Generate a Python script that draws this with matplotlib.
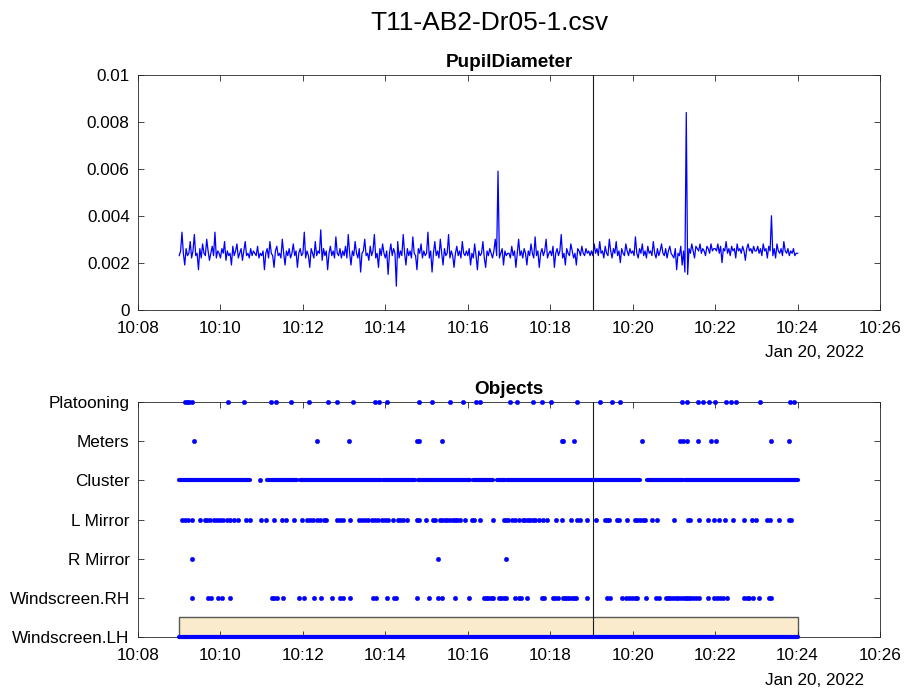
import matplotlib
matplotlib.use("Agg")
import matplotlib.pyplot as plt
import matplotlib.dates as mdates
from matplotlib.patches import Rectangle
import pandas as pd

plt.rcParams['font.family'] = ['Liberation Sans', 'DejaVu Sans']

DAY = "2022-01-20"
file_title = "T11-AB2-Dr05-1.csv"

# Pupil diameter in mm, one row per minute starting 10:09, sampled every 2 s
pupil_step_s = 2
pupil_minutes = ["10:09", "10:10", "10:11", "10:12", "10:13", "10:14", "10:15", "10:16",
                 "10:17", "10:18", "10:19", "10:20", "10:21", "10:22", "10:23"]
pupil_mm = [
    [2.3, 2.5, 3.3, 2.4, 1.9, 2.6, 2.3, 2.4, 2.9, 2.2, 2.5, 3.2, 2.3, 2.4, 1.7, 2.6, 2.2, 2.8, 2.4, 2.3, 3.0, 2.5, 2.1, 2.4, 2.7, 2.3, 3.3, 2.2, 2.5, 2.4],
    [2.2, 2.6, 2.4, 2.9, 2.1, 2.5, 2.3, 2.4, 1.9, 2.7, 2.3, 2.5, 2.8, 2.2, 2.4, 2.6, 2.1, 2.5, 2.9, 2.3, 2.4, 2.2, 2.6, 2.3, 2.5, 2.4, 2.3, 2.7, 2.2, 2.4],
    [2.3, 2.5, 1.7, 2.4, 2.6, 2.2, 2.9, 2.4, 2.3, 1.8, 2.5, 2.7, 2.3, 2.4, 2.2, 3.0, 2.4, 1.9, 2.5, 2.3, 2.6, 2.2, 2.4, 2.8, 2.3, 2.5, 1.8, 2.4, 2.6, 2.3],
    [2.4, 3.3, 2.2, 2.5, 2.3, 1.8, 2.6, 2.4, 2.2, 2.9, 2.3, 2.5, 2.4, 3.4, 2.1, 2.6, 2.3, 2.5, 1.7, 2.4, 2.7, 2.3, 2.5, 2.2, 3.1, 2.4, 2.3, 2.6, 2.2, 2.5],
    [2.3, 2.7, 2.2, 3.2, 2.4, 1.9, 2.5, 2.3, 2.9, 2.4, 2.2, 2.6, 1.6, 2.4, 2.5, 3.0, 2.3, 2.4, 2.1, 2.7, 2.3, 2.5, 3.2, 2.2, 2.4, 1.8, 2.6, 2.3, 2.8, 2.4],
    [2.2, 2.5, 1.5, 2.4, 2.8, 2.3, 2.6, 2.4, 1.0, 2.9, 2.2, 2.5, 2.3, 3.2, 2.4, 1.9, 2.6, 2.3, 2.5, 2.2, 3.1, 2.4, 2.3, 1.7, 2.6, 2.4, 2.8, 2.2, 2.5, 2.3],
    [2.4, 3.3, 2.2, 2.5, 1.6, 2.4, 2.9, 2.3, 2.5, 2.2, 3.0, 2.4, 1.9, 2.6, 2.3, 2.4, 3.2, 2.2, 2.5, 2.3, 1.8, 2.4, 2.7, 2.3, 2.5, 2.2, 2.9, 2.4, 2.3, 2.5],
    [2.3, 2.6, 1.9, 2.4, 2.2, 2.8, 2.3, 1.7, 2.5, 2.3, 2.4, 2.9, 2.2, 1.8, 2.5, 2.3, 2.6, 2.4, 2.2, 2.5, 3.0, 2.3, 5.9, 2.2, 2.4, 2.6, 1.9, 2.5, 2.3, 2.4],
    [2.4, 2.2, 2.7, 2.3, 2.5, 1.8, 2.4, 3.0, 2.3, 2.5, 2.2, 2.6, 2.4, 1.9, 2.5, 2.3, 2.8, 2.4, 2.2, 3.1, 2.3, 2.5, 1.8, 2.4, 2.6, 2.3, 2.5, 3.0, 2.2, 2.4],
    [2.5, 2.3, 2.7, 1.8, 2.4, 2.6, 2.3, 2.5, 3.2, 2.2, 2.4, 1.9, 2.6, 2.4, 2.3, 2.8, 2.5, 2.2, 2.4, 1.9, 2.6, 2.5, 2.3, 2.7, 2.4, 2.3, 2.6, 2.4, 2.5, 2.3],
    [2.5, 2.3, 2.8, 2.4, 2.6, 2.3, 2.9, 2.4, 2.5, 2.2, 2.7, 2.4, 2.3, 3.0, 2.5, 2.2, 2.6, 2.4, 2.9, 2.3, 2.5, 2.0, 2.6, 2.4, 2.3, 2.8, 2.5, 2.3, 2.6, 2.4],
    [2.5, 2.3, 3.1, 2.4, 2.2, 2.6, 2.4, 2.8, 2.3, 2.5, 2.2, 2.7, 2.4, 2.5, 2.3, 2.9, 2.4, 2.2, 2.6, 2.3, 2.5, 2.8, 2.4, 2.3, 2.6, 2.2, 2.5, 2.7, 2.4, 2.3],
    [2.2, 2.6, 1.7, 2.4, 2.3, 2.7, 1.9, 2.5, 1.6, 8.4, 1.5, 2.6, 2.4, 2.8, 2.5, 2.2, 2.7, 2.6, 2.5, 2.8, 2.4, 2.6, 2.5, 2.3, 2.7, 2.6, 2.4, 2.8, 2.5, 2.6],
    [2.6, 2.5, 2.8, 2.4, 2.7, 2.0, 2.6, 2.5, 2.9, 2.4, 2.6, 2.3, 2.7, 2.5, 2.6, 2.2, 2.8, 2.5, 2.6, 2.4, 2.7, 2.5, 2.1, 2.6, 2.8, 2.5, 2.6, 2.4, 2.7, 2.5],
    [2.5, 2.7, 2.4, 2.6, 2.3, 2.8, 2.5, 2.6, 2.2, 2.7, 2.5, 4.0, 2.3, 2.6, 2.2, 2.8, 2.5, 2.4, 2.6, 2.3, 2.9, 2.5, 2.4, 2.6, 2.3, 2.5, 2.4, 2.6, 2.3, 2.4],
]
pupil_last = ("10:24:00", 2.4)

# Gaze targets, bottom to top
categories = ["Windscreen.LH", "Windscreen.RH", "R Mirror", "L Mirror",
              "Cluster", "Meters", "Platooning"]

platooning_t = ["10:09:08", "10:09:11", "10:09:14", "10:09:19", "10:10:11", "10:10:34",
                "10:11:14", "10:11:21", "10:11:43", "10:12:09", "10:12:37", "10:12:50",
                "10:13:13", "10:13:45", "10:13:51", "10:14:02", "10:14:49", "10:15:08",
                "10:15:34", "10:15:53", "10:16:12", "10:16:18", "10:17:01", "10:17:12",
                "10:17:35", "10:17:48", "10:18:01", "10:18:39", "10:19:12", "10:19:30",
                "10:19:42", "10:21:12", "10:21:19", "10:21:35", "10:21:42", "10:21:51",
                "10:22:00", "10:22:16", "10:22:23", "10:22:30", "10:23:05", "10:23:49",
                "10:23:55"]

meters_t = ["10:09:22", "10:12:20", "10:13:07", "10:14:46", "10:14:49", "10:15:23",
            "10:18:17", "10:18:19", "10:18:34", "10:20:14", "10:21:09", "10:21:13",
            "10:21:19", "10:21:35", "10:21:54", "10:22:01", "10:23:21", "10:23:47"]

cluster_runs = [("10:09:00", "10:10:43"), ("10:11:08", "10:11:51"), ("10:11:56", "10:13:54"),
                ("10:13:57", "10:14:43"), ("10:14:48", "10:16:03"), ("10:16:08", "10:16:37"),
                ("10:16:43", "10:16:54"), ("10:16:57", "10:20:11"), ("10:20:21", "10:21:13"),
                ("10:21:16", "10:24:00")]
cluster_t = ["10:10:58"]

l_mirror_t = ["10:09:04", "10:09:08", "10:09:13", "10:09:18", "10:09:30", "10:09:38",
              "10:09:41", "10:09:45", "10:09:50", "10:09:55", "10:09:59", "10:10:04",
              "10:10:09", "10:10:14", "10:10:19", "10:10:26", "10:10:37", "10:10:43",
              "10:10:59", "10:11:07", "10:11:18", "10:11:30", "10:11:36", "10:11:47",
              "10:11:58", "10:12:06", "10:12:10", "10:12:15", "10:12:20", "10:12:25",
              "10:12:30", "10:12:34", "10:12:49", "10:12:54", "10:12:59", "10:13:09",
              "10:13:21", "10:13:26", "10:13:30", "10:13:35", "10:13:40", "10:13:45",
              "10:13:50", "10:13:55", "10:13:59", "10:14:04", "10:14:11", "10:14:19",
              "10:14:22", "10:14:25", "10:14:31", "10:14:46", "10:14:49", "10:14:59",
              "10:15:09", "10:15:12", "10:15:20", "10:15:23", "10:15:27", "10:15:30",
              "10:15:34", "10:15:38", "10:15:41", "10:15:45", "10:15:49", "10:15:56",
              "10:16:06", "10:16:09", "10:16:18", "10:16:36", "10:16:52", "10:16:56",
              "10:16:59", "10:17:04", "10:17:09", "10:17:14", "10:17:20", "10:17:23",
              "10:17:27", "10:17:31", "10:17:35", "10:17:38", "10:17:43", "10:17:50",
              "10:17:55", "10:18:09", "10:18:17", "10:18:30", "10:18:39", "10:18:43",
              "10:18:54", "10:19:07", "10:19:20", "10:19:23", "10:19:26", "10:19:37",
              "10:19:40", "10:19:51", "10:20:03", "10:20:07", "10:20:11", "10:20:15",
              "10:20:18", "10:20:28", "10:20:35", "10:21:00", "10:21:21", "10:21:24",
              "10:21:36", "10:21:49", "10:21:58", "10:22:06", "10:22:14", "10:22:26",
              "10:22:42", "10:22:53", "10:22:59", "10:23:16", "10:23:20", "10:23:33",
              "10:23:47", "10:23:51"]

r_mirror_t = ["10:09:18", "10:15:16", "10:16:55"]

windscreen_rh_t = ["10:09:18", "10:09:42", "10:09:46", "10:09:56", "10:10:02", "10:10:14",
                   "10:11:15", "10:11:18", "10:11:22", "10:11:31", "10:11:54", "10:12:02",
                   "10:12:16", "10:12:27", "10:12:43", "10:12:54", "10:12:58", "10:13:08",
                   "10:13:42", "10:13:47", "10:14:02", "10:14:12", "10:14:16", "10:14:46",
                   "10:15:03", "10:15:16", "10:15:23", "10:15:41", "10:16:02", "10:16:23",
                   "10:16:27", "10:16:30", "10:16:34", "10:16:37", "10:16:46", "10:16:49",
                   "10:16:53", "10:16:56", "10:17:09", "10:17:14", "10:17:18", "10:17:26",
                   "10:17:48", "10:17:51", "10:18:04", "10:18:07", "10:18:12", "10:18:18",
                   "10:18:21", "10:18:25", "10:18:28", "10:18:31", "10:18:35", "10:18:38",
                   "10:18:54", "10:19:23", "10:19:27", "10:19:45", "10:19:50", "10:19:54",
                   "10:19:59", "10:20:03", "10:20:07", "10:20:20", "10:20:34", "10:20:38",
                   "10:20:48", "10:20:52", "10:20:55", "10:20:59", "10:21:03", "10:21:06",
                   "10:21:10", "10:21:14", "10:21:18", "10:21:21", "10:21:24", "10:21:28",
                   "10:21:32", "10:21:36", "10:21:50", "10:21:58", "10:22:02", "10:22:07",
                   "10:22:12", "10:22:17", "10:22:42", "10:22:46", "10:22:50", "10:22:55",
                   "10:23:04", "10:23:19", "10:23:22"]

windscreen_lh_runs = [("10:09:00", "10:24:00")]

highlight_window = ("10:09:00", "10:24:00")
cursor_time = "10:19:02"
x_limits = ("10:08:00", "10:26:00")
date_label = "Jan 20, 2022"


def ts(hms):
    return pd.Timestamp(f"{DAY} {hms}")


def tlist(values):
    return [ts(v) for v in values]


BLUE = (0.0, 0.0, 1.0)
AX_COLOR = (0.15, 0.15, 0.15)
TICK_FS = 12.3

fig = plt.figure(figsize=(9.05, 6.88), dpi=100)
fig.text(0.541, 0.967, file_title, ha='center', va='center', fontsize=19)

ax1 = fig.add_axes([0.1525, 0.550, 0.8199, 0.341])
ax2 = fig.add_axes([0.1525, 0.0741, 0.8199, 0.3416])

# --- Pupil diameter trace ---
p_times, p_vals = [], []
for minute, row in zip(pupil_minutes, pupil_mm):
    t0 = ts(minute + ":00")
    for i, v in enumerate(row):
        p_times.append(t0 + pd.Timedelta(seconds=i * pupil_step_s))
        p_vals.append(v / 1000.0)
p_times.append(ts(pupil_last[0]))
p_vals.append(pupil_last[1] / 1000.0)

ax1.plot(p_times, p_vals, color=BLUE, lw=0.9)
ax1.set_ylim(0, 0.01)
ax1.set_yticks([0, 0.002, 0.004, 0.006, 0.008, 0.01])
ax1.set_yticklabels(["0", "0.002", "0.004", "0.006", "0.008", "0.01"])
ax1.set_title("PupilDiameter", fontsize=13.6, fontweight='bold', pad=6)

# --- Gaze objects ---
ypos = {c: i + 1 for i, c in enumerate(categories)}

x0, x1 = ts(highlight_window[0]), ts(highlight_window[1])
band = Rectangle((mdates.date2num(x0), ypos["Windscreen.LH"]),
                 mdates.date2num(x1) - mdates.date2num(x0), 0.5,
                 facecolor=(0.98, 0.92, 0.80), edgecolor=(0.35, 0.35, 0.35),
                 lw=1.0, zorder=1)
ax2.add_patch(band)

point_sets = {
    "Platooning": platooning_t,
    "Meters": meters_t,
    "Cluster": cluster_t,
    "L Mirror": l_mirror_t,
    "R Mirror": r_mirror_t,
    "Windscreen.RH": windscreen_rh_t,
}
for name, times in point_sets.items():
    ax2.plot(tlist(times), [ypos[name]] * len(times), linestyle='none', marker='o',
             ms=3.2, mfc=BLUE, mec=BLUE, mew=0.3, clip_on=False, zorder=3)

for name, runs in (("Cluster", cluster_runs), ("Windscreen.LH", windscreen_lh_runs)):
    for a, b in runs:
        ax2.plot([ts(a), ts(b)], [ypos[name]] * 2, color=BLUE, lw=3.0,
                 solid_capstyle='round', clip_on=False, zorder=3)

ax2.set_ylim(1, len(categories))
ax2.set_yticks(list(ypos.values()))
ax2.set_yticklabels(categories)
ax2.set_title("Objects", fontsize=13.6, fontweight='bold', pad=6)

# --- Shared styling ---
for ax in (ax1, ax2):
    ax.axvline(ts(cursor_time), color=(0.1, 0.1, 0.1), lw=0.8, zorder=2)
    ax.set_xlim(ts(x_limits[0]), ts(x_limits[1]))
    ax.xaxis.set_major_locator(mdates.MinuteLocator(byminute=range(0, 60, 2)))
    ax.xaxis.set_major_formatter(mdates.DateFormatter('%H:%M'))
    ax.tick_params(direction='in', top=True, right=True, length=4, width=0.6,
                   color=AX_COLOR, labelsize=TICK_FS, labelcolor='black')
    ax.tick_params(axis='x', pad=8)
    ax.tick_params(axis='y', pad=6)
    for s in ax.spines.values():
        s.set_color(AX_COLOR)
        s.set_linewidth(0.6)
    ax.text(0.912, -0.183, date_label, transform=ax.transAxes, ha='center',
            va='center', fontsize=TICK_FS)

fig.savefig("out.png", dpi=100)
